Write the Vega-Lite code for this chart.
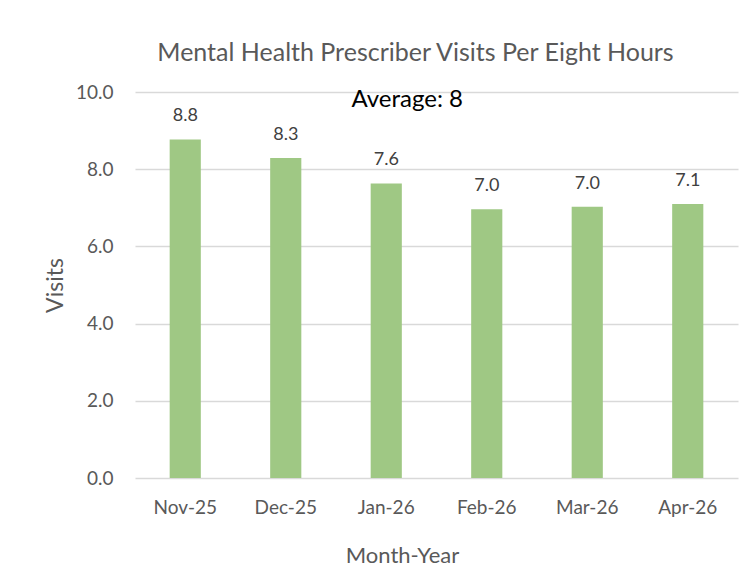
{
  "$schema": "https://vega.github.io/schema/vega-lite/v6.json",
  "width": 603,
  "height": 386,
  "autosize": {"type": "none"},
  "padding": {"left": 135, "top": 92, "right": 16, "bottom": 105},
  "background": "white",
  "title": {
    "text": "Mental Health Prescriber Visits Per Eight Hours",
    "font": "Lato",
    "fontSize": 25,
    "fontWeight": "normal",
    "color": "#595959",
    "anchor": "middle",
    "dx": -21,
    "offset": 17
  },
  "data": {
    "values": [
      {"month": "Nov-25", "visits": 8.77},
      {"month": "Dec-25", "visits": 8.29},
      {"month": "Jan-26", "visits": 7.63},
      {"month": "Feb-26", "visits": 6.96},
      {"month": "Mar-26", "visits": 7.03},
      {"month": "Apr-26", "visits": 7.1}
    ]
  },
  "encoding": {
    "x": {
      "field": "month",
      "type": "nominal",
      "sort": null,
      "scale": {"paddingInner": 0.69, "paddingOuter": 0.345},
      "axis": {
        "title": "Month-Year",
        "labelAngle": 0,
        "labelFont": "Lato",
        "labelFontSize": 19,
        "labelColor": "#595959",
        "labelPadding": 20,
        "titleFont": "Lato",
        "titleFontSize": 22,
        "titleFontWeight": "normal",
        "titleColor": "#595959",
        "titlePadding": 28,
        "titleX": 267,
        "domain": false,
        "ticks": false
      }
    },
    "y": {
      "field": "visits",
      "type": "quantitative",
      "scale": {"domain": [0, 10], "nice": false},
      "axis": {
        "title": "Visits",
        "values": [0, 2, 4, 6, 8, 10],
        "format": ".1f",
        "labelFont": "Lato",
        "labelFontSize": 19,
        "labelColor": "#595959",
        "labelPadding": 22,
        "titleFont": "Lato",
        "titleFontSize": 23,
        "titleFontWeight": "normal",
        "titleColor": "#595959",
        "titlePadding": 8,
        "domain": false,
        "ticks": false,
        "gridColor": "#d9d9d9",
        "gridWidth": 1.5
      }
    }
  },
  "layer": [
    {
      "mark": {"type": "bar", "color": "#9fc884"}
    },
    {
      "mark": {"type": "text", "baseline": "alphabetic", "dy": -18, "font": "Lato", "fontSize": 18, "color": "#404040"},
      "encoding": {
        "text": {"field": "visits", "type": "quantitative", "format": ".1f"}
      }
    },
    {
      "data": {"values": [{"month": "Jan-26", "visits": 9.6, "label": "Average: 8"}]},
      "mark": {"type": "text", "baseline": "alphabetic", "dx": 21, "font": "Lato", "fontSize": 24, "color": "#000000"},
      "encoding": {
        "text": {"field": "label", "type": "nominal"}
      }
    }
  ],
  "config": {"view": {"stroke": null}}
}
